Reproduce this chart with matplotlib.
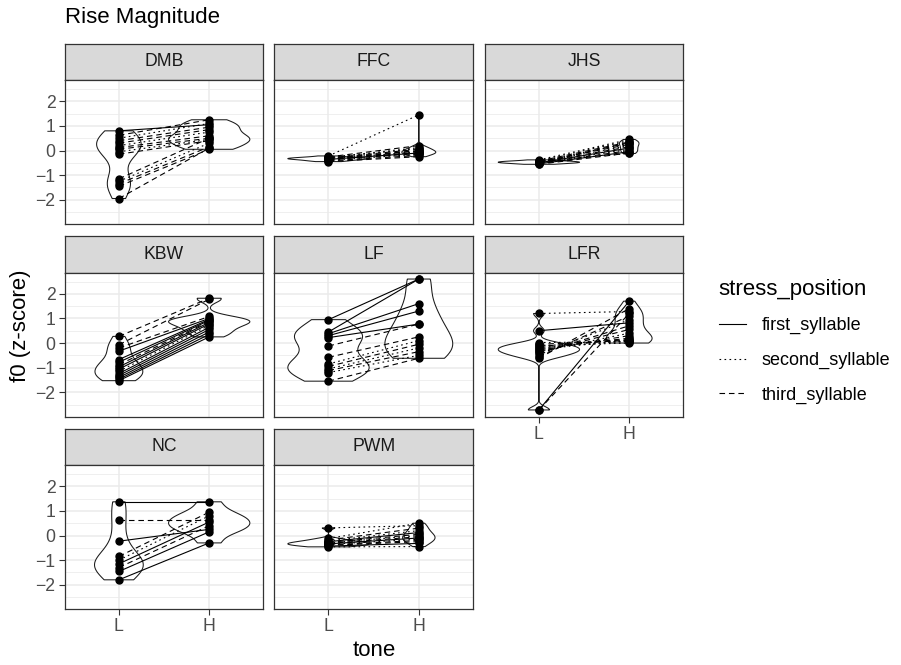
import numpy as np
import matplotlib.pyplot as plt
from matplotlib.lines import Line2D

plt.rcParams['font.family'] = ['Liberation Sans', 'DejaVu Sans']

# speakers (facets) and tone levels on the x axis
speakers = ['DMB', 'FFC', 'JHS', 'KBW', 'LF', 'LFR', 'NC', 'PWM']
tones = ['L', 'H']
stress_levels = ['first_syllable', 'second_syllable', 'third_syllable']

# paired f0 (z-score) values per item: L tone, H tone, stress position (1/2/3)
dmb_low = [0.80, 0.62, 0.50, 0.40, 0.30, 0.20, 0.12, 0.05, -0.05, -0.15, -1.15, -1.25, -1.35, -1.45, -1.95]
dmb_high = [1.05, 1.25, 1.10, 0.95, 0.85, 0.75, 0.60, 0.50, 0.45, 0.40, 0.50, 0.30, 0.15, 0.05, 0.10]
dmb_stress = [1, 3, 2, 3, 3, 2, 3, 3, 2, 3, 3, 2, 3, 3, 3]

ffc_low = [-0.22, -0.26, -0.28, -0.30, -0.32, -0.33, -0.35, -0.36, -0.38, -0.40, -0.42, -0.45, -0.30, -0.34]
ffc_high = [1.45, 0.20, 0.12, 0.05, 0.00, -0.05, -0.08, -0.10, -0.12, -0.15, -0.20, -0.25, 0.08, -0.02]
ffc_stress = [2, 3, 2, 3, 3, 2, 3, 1, 3, 2, 3, 3, 2, 3]

jhs_low = [-0.38, -0.41, -0.43, -0.45, -0.46, -0.47, -0.48, -0.50, -0.51, -0.52, -0.54, -0.56, -0.44, -0.49]
jhs_high = [0.45, 0.40, 0.35, 0.30, 0.25, 0.20, 0.15, 0.10, 0.05, 0.00, -0.05, -0.10, -0.12, 0.32]
jhs_stress = [2, 2, 3, 2, 3, 2, 3, 1, 2, 3, 1, 3, 2, 3]

kbw_low = [0.27, -0.07, -0.20, -0.33, -0.67, -0.78, -0.88, -0.97, -1.06, -1.15, -1.24, -1.32, -1.40, -1.47, -1.53]
kbw_high = [1.82, 1.78, 1.08, 1.00, 0.96, 0.92, 0.88, 0.84, 0.78, 0.72, 0.64, 0.55, 0.45, 0.35, 0.25]
kbw_stress = [3, 3, 3, 1, 1, 1, 3, 1, 1, 2, 1, 1, 1, 1, 1]

lf_low = [0.95, 0.45, 0.38, 0.30, 0.22, -0.12, -0.58, -0.85, -0.95, -1.05, -1.12, -1.20, -1.55]
lf_high = [2.60, 2.60, 1.60, 1.30, 0.77, 0.77, 0.25, 0.10, -0.05, -0.20, -0.35, -0.50, -0.62]
lf_stress = [1, 1, 1, 1, 1, 3, 3, 2, 3, 2, 3, 2, 3]

lfr_low = [1.20, 0.50, 0.02, -0.05, -0.10, -0.14, -0.18, -0.22, -0.26, -0.30, -0.34, -0.38, -0.42, -0.48, -0.55, -0.62, -2.72, -2.72]
lfr_high = [1.28, 0.82, 0.05, 0.10, 0.00, 0.15, 0.08, 0.20, 0.12, 0.30, 0.40, 0.55, 0.70, 0.95, 1.10, 1.40, 1.70, 1.20]
lfr_stress = [2, 1, 2, 3, 2, 3, 2, 3, 2, 3, 2, 3, 3, 2, 3, 3, 1, 3]

nc_low = [1.37, 0.62, -0.23, -0.85, -1.00, -1.15, -1.30, -1.46, -1.80]
nc_high = [1.37, 0.62, 0.25, 0.95, 0.80, 0.55, 0.40, 0.15, -0.30]
nc_stress = [1, 3, 1, 3, 2, 1, 3, 1, 1]

pwm_low = [0.31, -0.12, -0.18, -0.22, -0.25, -0.28, -0.30, -0.32, -0.34, -0.36, -0.38, -0.40, -0.43, -0.46]
pwm_high = [0.40, 0.50, 0.30, 0.20, 0.12, 0.05, 0.00, -0.05, -0.10, -0.15, -0.20, -0.25, -0.32, -0.45]
pwm_stress = [2, 2, 3, 2, 1, 3, 2, 3, 1, 2, 3, 3, 1, 2]

data = {
    'DMB': (dmb_low, dmb_high, dmb_stress),
    'FFC': (ffc_low, ffc_high, ffc_stress),
    'JHS': (jhs_low, jhs_high, jhs_stress),
    'KBW': (kbw_low, kbw_high, kbw_stress),
    'LF': (lf_low, lf_high, lf_stress),
    'LFR': (lfr_low, lfr_high, lfr_stress),
    'NC': (nc_low, nc_high, nc_stress),
    'PWM': (pwm_low, pwm_high, pwm_stress),
}

line_styles = {1: '-', 2: (0, (1.5, 3)), 3: (0, (5, 3.5))}

small_font = 12.7
big_font = 16


def nrd0(v):
    # same rule of thumb as R's bw.nrd0
    v = np.asarray(v, float)
    sd = v.std(ddof=1)
    iqr = np.subtract(*np.percentile(v, [75, 25]))
    lo = min(sd, iqr / 1.34) if iqr > 0 else sd
    return 0.9 * lo * len(v) ** -0.2


def kde(v, grid):
    v = np.asarray(v, float)
    bw = nrd0(v)
    z = (grid[:, None] - v[None, :]) / bw
    return np.exp(-0.5 * z ** 2).sum(axis=1) / (len(v) * bw * np.sqrt(2 * np.pi))


# shared y range, ggplot style 5% expansion
all_vals = np.concatenate([np.r_[d[0], d[1]] for d in data.values()])
pad = 0.05 * (all_vals.max() - all_vals.min())
ylim = (all_vals.min() - pad, all_vals.max() + pad)

W, H = 901, 665
fig = plt.figure(figsize=(W / 100, H / 100), dpi=100)


def add_px_axes(x, y, w, h):
    return fig.add_axes([x / W, 1 - (y + h) / H, w / W, h / H])


col_x = [64.7, 274.3, 484.7]
row_top = [43.5, 236, 428.5]
panel_w, strip_h, panel_h = 198.7, 36.5, 144

border = '#333333'
for i, spk in enumerate(speakers):
    row, col = divmod(i, 3)
    low, high, stress = data[spk]

    sax = add_px_axes(col_x[col], row_top[row], panel_w, strip_h)
    sax.set_facecolor('#D9D9D9')
    sax.set_xticks([])
    sax.set_yticks([])
    for s in sax.spines.values():
        s.set_color(border)
        s.set_linewidth(0.9)
    sax.text(0.5, 0.5, spk, ha='center', va='center', fontsize=small_font,
             color='#1A1A1A', transform=sax.transAxes)

    ax = add_px_axes(col_x[col], row_top[row] + strip_h, panel_w, panel_h)
    ax.set_xlim(0.4, 2.6)
    ax.set_ylim(*ylim)
    ax.set_xticks([1, 2])
    ax.set_xticklabels(tones)
    ax.set_yticks([-2, -1, 0, 1, 2])
    ax.set_yticks(np.arange(-2.5, 3.0, 1.0), minor=True)
    ax.grid(which='major', color='#EBEBEB', lw=1.1)
    ax.grid(which='minor', axis='y', color='#EBEBEB', lw=0.55)
    ax.set_axisbelow(True)
    for s in ax.spines.values():
        s.set_color(border)
        s.set_linewidth(0.9)
    ax.tick_params(which='minor', length=0)
    ax.tick_params(which='major', length=4.0, width=0.8, color=border,
                   labelcolor='#4D4D4D', labelsize=small_font, pad=2.6)

    show_x = (row == 2) or (spk == 'LFR')
    ax.tick_params(axis='x', bottom=show_x, labelbottom=show_x)
    ax.tick_params(axis='y', left=(col == 0), labelleft=(col == 0))

    # violins (area scaled within the panel, trimmed to data range)
    grids, dens = [], []
    for vals in (low, high):
        g = np.linspace(min(vals), max(vals), 512)
        grids.append(g)
        dens.append(kde(vals, g))
    dmax = max(d.max() for d in dens)
    for pos, g, d in zip((1, 2), grids, dens):
        half = 0.45 * d / dmax
        xs = np.r_[pos - half, (pos + half)[::-1]]
        ys = np.r_[g, g[::-1]]
        ax.fill(xs, ys, facecolor='white', edgecolor='#1A1A1A', lw=0.75, zorder=2)

    for lo_v, hi_v, st in zip(low, high, stress):
        ax.plot([1, 2], [lo_v, hi_v], color='black', lw=0.8,
                linestyle=line_styles[st], zorder=3)
    ax.plot([1] * len(low), low, 'o', color='black', ms=5, zorder=4)
    ax.plot([2] * len(high), high, 'o', color='black', ms=5, zorder=4)

fig.text(64.7 / W, 1 - 18 / H, 'Rise Magnitude', fontsize=big_font, ha='left',
         va='center', color='black')
fig.text(373.9 / W, 1 - 651 / H, 'tone', fontsize=big_font, ha='center', va='center')
fig.text(21 / W, 1 - 326 / H, 'f0 (z-score)', fontsize=big_font, ha='center',
         va='center', rotation=90)

# legend: title placed separately so the key rows can sit lower
fig.text(718 / W, 1 - 290 / H, 'stress_position', fontsize=big_font,
         ha='left', va='center')
handles = [Line2D([], [], color='black', lw=0.8, linestyle=line_styles[k])
           for k in (1, 2, 3)]
fig.legend(handles, stress_levels, loc='upper left',
           bbox_to_anchor=(719 / W, 1 - 317 / H),
           frameon=False, fontsize=13,
           handlelength=1.5, handletextpad=0.85, labelspacing=0.98,
           borderpad=0, borderaxespad=0)

fig.savefig('out.png', dpi=100)
